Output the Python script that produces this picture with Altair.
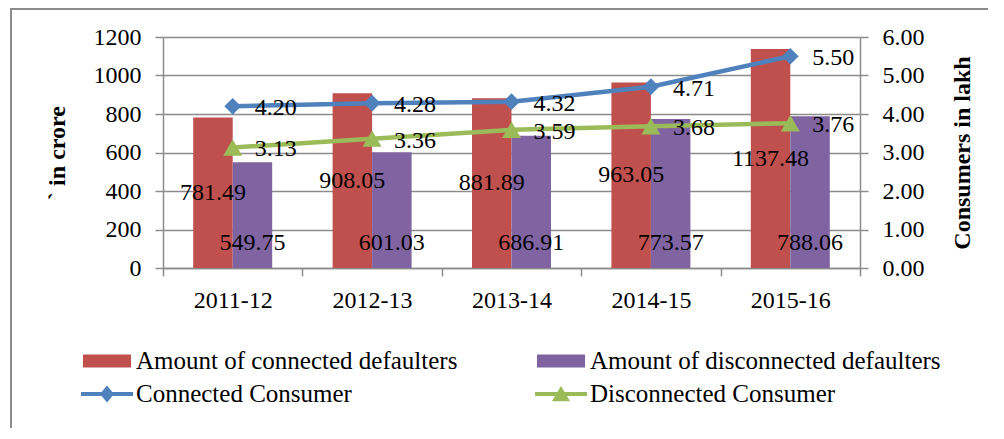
import altair as alt
import pandas as pd

years = ["2011-12", "2012-13", "2013-14", "2014-15", "2015-16"]
amount_connected = [781.49, 908.05, 881.89, 963.05, 1137.48]
amount_disconnected = [549.75, 601.03, 686.91, 773.57, 788.06]
consumers_connected = [4.20, 4.28, 4.32, 4.71, 5.50]
consumers_disconnected = [3.13, 3.36, 3.59, 3.68, 3.76]

series_names = [
    "Amount of connected defaulters",
    "Amount of disconnected defaulters",
    "Connected Consumer",
    "Disconnected Consumer",
]
series_colors = ["#C0504D", "#8064A2", "#4F81BD", "#9BBB59"]
# legend symbol paths (unit box scaled by sqrt(symbolSize)/2 = 13px)
legend_shapes = [
    "M-1.85,-0.5H1.85V0.5H-1.85Z",
    "M-1.85,-0.5H1.85V0.5H-1.85Z",
    "M-2,-0.16H2V0.16H-2Z M0,-0.66L0.54,0L0,0.66L-0.54,0Z",
    "M-2,-0.16H2V0.16H-2Z M0,-0.62L0.7,0.56L-0.7,0.56Z",
]

FONT = "Liberation Serif"
GRAY = "#8C8C8C"

bars_df = pd.DataFrame(
    {
        "year": years * 2,
        "series": [series_names[0]] * 5 + [series_names[1]] * 5,
        "value": amount_connected + amount_disconnected,
    }
)
lines_df = pd.DataFrame(
    {
        "year": years * 2,
        "series": [series_names[2]] * 5 + [series_names[3]] * 5,
        "value": consumers_connected + consumers_disconnected,
    }
)


def make_legend():
    return alt.Legend(
        title=None,
        orient="none",
        direction="horizontal",
        legendX=-69,
        legendY=311,
        columns=2,
        symbolSize=676,
        symbolStrokeWidth=0,
        symbolOpacity=1,
        labelFont=FONT,
        labelFontSize=25,
        labelColor="black",
        labelLimit=600,
        labelOffset=16,
        columnPadding=77,
        rowPadding=7,
    )


color_scale = alt.Scale(domain=series_names, range=series_colors)
x_enc = alt.X(
    "year:N",
    sort=years,
    scale=alt.Scale(paddingInner=0, paddingOuter=0),
    axis=alt.Axis(
        title=None,
        labelAngle=0,
        tickBand="extent",
        tickSize=8,
        labelPadding=12,
        grid=False,
    ),
)
xoff = alt.XOffset(
    "series:N",
    sort=series_names[:2],
    scale=alt.Scale(paddingInner=0, paddingOuter=0.765),
)
left_scale = alt.Scale(domain=[0, 1200], nice=False)
left_axis = alt.Axis(
    values=[0, 200, 400, 600, 800, 1000, 1200],
    format="d",
    title="` in crore",
    titleFontWeight="bold",
    titleFontSize=24,
    titleX=-106,
    titleY=115.5,
    titleAngle=270,
    titleAlign="center",
    titleBaseline="middle",
    grid=True,
    tickSize=8,
    labelPadding=14,
    labelOverlap=False,
)

base_b = alt.Chart(bars_df).transform_calculate(mid="datum.value / 2", zero="0")
bars = base_b.mark_bar(opacity=1).encode(
    x=x_enc,
    xOffset=xoff,
    y=alt.Y("value:Q", scale=left_scale, axis=left_axis),
    color=alt.Color("series:N", scale=color_scale, legend=make_legend()),
)
red_labels = (
    base_b.transform_filter(alt.datum.series == series_names[0])
    .mark_text(font=FONT, fontSize=24, color="black", baseline="middle")
    .encode(
        x=x_enc,
        xOffset=xoff,
        y=alt.Y("mid:Q", scale=left_scale, axis=left_axis),
        text=alt.Text("value:Q", format=".2f"),
    )
)
purple_labels = (
    base_b.transform_filter(alt.datum.series == series_names[1])
    .mark_text(font=FONT, fontSize=24, color="black", baseline="middle", dy=-25)
    .encode(
        x=x_enc,
        xOffset=xoff,
        y=alt.Y("zero:Q", scale=left_scale, axis=left_axis),
        text=alt.Text("value:Q", format=".2f"),
    )
)
frame = (
    alt.Chart(pd.DataFrame({"a": [0]}))
    .mark_rect(fill="transparent", stroke=GRAY, strokeWidth=2)
    .encode(
        x=alt.value(-152),
        x2=alt.value(1000),
        y=alt.value(-28),
        y2=alt.value(500),
    )
)
legend_layer = (
    base_b.transform_filter("false")
    .mark_point(filled=True, opacity=1)
    .encode(
        color=alt.Color("series:N", scale=color_scale, legend=make_legend()),
        shape=alt.Shape(
            "series:N",
            scale=alt.Scale(domain=series_names, range=legend_shapes),
            legend=make_legend(),
        ),
    )
)

left_group = alt.layer(frame, bars, red_labels, purple_labels, legend_layer)

right_scale = alt.Scale(domain=[0, 6], nice=False)
right_axis = alt.Axis(
    orient="right",
    values=[0, 1, 2, 3, 4, 5, 6],
    format=".2f",
    title="Consumers in lakh",
    titleFontWeight="bold",
    titleFontSize=24,
    titleX=102,
    titleY=115.5,
    titleAngle=270,
    titleAlign="center",
    titleBaseline="middle",
    grid=False,
    tickSize=8,
    labelPadding=14,
    labelOverlap=False,
)
y_right = alt.Y("value:Q", scale=right_scale, axis=right_axis)
base_l = alt.Chart(lines_df)


def series_layers(name, color, shape, size):
    sub = base_l.transform_filter(alt.datum.series == name)
    line = sub.mark_line(strokeWidth=4.5, color=color).encode(x=x_enc, y=y_right)
    pts = sub.mark_point(
        shape=shape, filled=True, size=size, opacity=1, color=color
    ).encode(x=x_enc, y=y_right)
    return [line, pts]


line_labels = base_l.mark_text(
    font=FONT, fontSize=24, color="black", align="left", baseline="middle", dx=22, dy=2
).encode(x=x_enc, y=y_right, text=alt.Text("value:Q", format=".2f"))

right_group = alt.layer(
    *series_layers(series_names[2], series_colors[2], "diamond", 280),
    *series_layers(series_names[3], series_colors[3], "triangle-up", 360),
    line_labels,
)

chart = (
    alt.layer(left_group, right_group)
    .resolve_scale(y="independent")
    .properties(
        width=697,
        height=231,
        autosize=alt.AutoSizeParams(type="none"),
        padding={"left": 155, "top": 29, "right": 128, "bottom": 160},
        background="white",
    )
    .configure_view(stroke=None)
    .configure_axis(
        labelFont=FONT,
        labelFontSize=24,
        labelColor="black",
        titleFont=FONT,
        titleColor="black",
        domainColor=GRAY,
        domainWidth=1.5,
        tickColor=GRAY,
        tickWidth=1.5,
        gridColor=GRAY,
        gridWidth=1.5,
    )
)

chart.save("out.html", embed_options={"renderer": "svg", "actions": False})
